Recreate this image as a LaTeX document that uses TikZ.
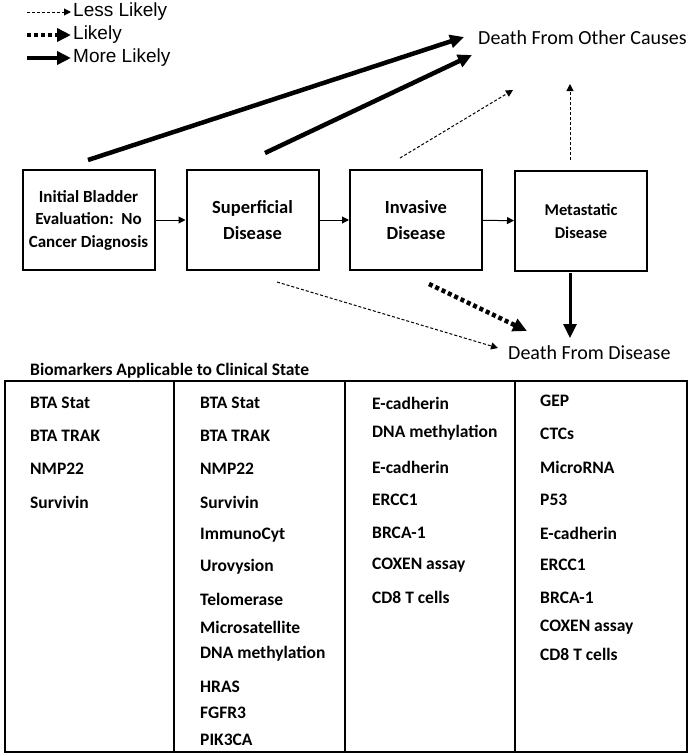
\documentclass[tikz,border=0pt]{standalone}
\usepackage{fontspec}
\setmainfont{Carlito}
\newfontfamily\legfont{Liberation Sans}
\usetikzlibrary{arrows.meta}
\begin{document}
\begin{tikzpicture}[x=1pt,y=-1pt,
  state/.style={draw,line width=2pt,minimum width=132pt,minimum height=100pt,align=center,font=\bfseries\fontsize{18.5}{26}\selectfont,inner sep=0pt},
  flow/.style={-{Triangle[length=7pt,width=7pt]},line width=1pt},
  less/.style={-{Triangle[length=7pt,width=7pt]},line width=1pt,dash pattern=on 3pt off 2pt},
  likely/.style={-{Triangle[length=14pt,width=13pt]},line width=4.5pt,dash pattern=on 4pt off 3pt},
  more/.style={-{Triangle[length=14pt,width=13pt]},line width=4.5pt},
  endtxt/.style={font=\fontsize{20}{24}\selectfont,inner sep=0pt},
  leg/.style={font=\legfont\fontsize{19}{22}\selectfont,anchor=west,inner sep=0pt},
  bm/.style={font=\bfseries\fontsize{17.5}{20}\selectfont,anchor=west,inner sep=0pt}]
\useasboundingbox (0,0) rectangle (691,756);
% legend
\coordinate (l1a) at (27,12); \coordinate (l1b) at (71,12);
\coordinate (l2a) at (27,35); \coordinate (l2b) at (71,35);
\coordinate (l3a) at (27,58); \coordinate (l3b) at (71,58);
\draw[less] (l1a) -- (l1b);
\draw[likely] (l2a) -- (l2b);
\draw[more] (l3a) -- (l3b);
\node[leg] (t1) at (73,12) {Less Likely};
\node[leg] (t2) at (73,35) {Likely};
\node[leg] (t3) at (73,58) {More Likely};
% states
\node[state,font=\bfseries\fontsize{17}{22.5}\selectfont] (s1) at (88.5,220) {Initial Bladder\\Evaluation:\ \ No\\Cancer Diagnosis};
\node[state] (s2) at (252.5,220) {Superficial\\Disease};
\node[state] (s3) at (416,220) {Invasive\\Disease};
\node[state,font=\bfseries\fontsize{16.5}{23}\selectfont] (s4) at (581,221) {Metastatic\\Disease};
\draw[flow] (s1) -- (s2);
\draw[flow] (s2) -- (s3);
\draw[flow] (s3) -- (s4);
% outcomes
\node[endtxt,anchor=west] (doc) at (478,38) {Death From Other Causes};
\node[endtxt,anchor=west] (dfd) at (508,353) {Death From Disease};
\coordinate (a1s) at (88,160); \coordinate (a1e) at (464,37);
\coordinate (a2s) at (265,153); \coordinate (a2e) at (472,55);
\coordinate (a3s) at (400,158); \coordinate (a3e) at (513,90);
\coordinate (a4s) at (570,160); \coordinate (a4e) at (570,84);
\coordinate (b1s) at (277,282); \coordinate (b1e) at (498,348);
\coordinate (b2s) at (429,284); \coordinate (b2e) at (527,331);
\coordinate (b3s) at (570,273); \coordinate (b3e) at (570,338);
\draw[more] (a1s) -- (a1e);
\draw[more] (a2s) -- (a2e);
\draw[less] (a3s) -- (a3e);
\draw[less] (a4s) -- (a4e);
\draw[less] (b1s) -- (b1e);
\draw[likely] (b2s) -- (b2e);
\draw[more,line width=3pt] (b3s) -- (b3e);
% table
\node[font=\bfseries\fontsize{17.5}{20}\selectfont,anchor=west,inner sep=0pt] (cap) at (30,371) {Biomarkers Applicable to Clinical State};
\draw[line width=1.5pt] (5,381) rectangle (687,752);
\draw[line width=1.2pt] (174,381) -- (174,752) (345,381) -- (345,752) (515,381) -- (515,752);
\foreach \y/\t [count=\i] in {403/BTA Stat,436/BTA TRAK,469/NMP22,502/Survivin}
  \node[bm] (c1-\i) at (30,\y) {\t};
\foreach \y/\t [count=\i] in {403/BTA Stat,436/BTA TRAK,469/NMP22,502/Survivin,535/ImmunoCyt,567/Urovysion,599/Telomerase,627/Microsatellite,654/DNA methylation,687/HRAS,713/FGFR3,740/PIK3CA}
  \node[bm] (c2-\i) at (200,\y) {\t};
\foreach \y/\t [count=\i] in {403/E-cadherin,433/DNA methylation,467/E-cadherin,500/ERCC1,533/BRCA-1,565/COXEN assay,597/CD8 T cells}
  \node[bm] (c3-\i) at (372,\y) {\t};
\foreach \y/\t [count=\i] in {401/GEP,434/CTCs,467/MicroRNA,500/P53,533/E-cadherin,565/ERCC1,598/BRCA-1,627/COXEN assay,654/CD8 T cells}
  \node[bm] (c4-\i) at (540,\y) {\t};
\end{tikzpicture}
\end{document}
